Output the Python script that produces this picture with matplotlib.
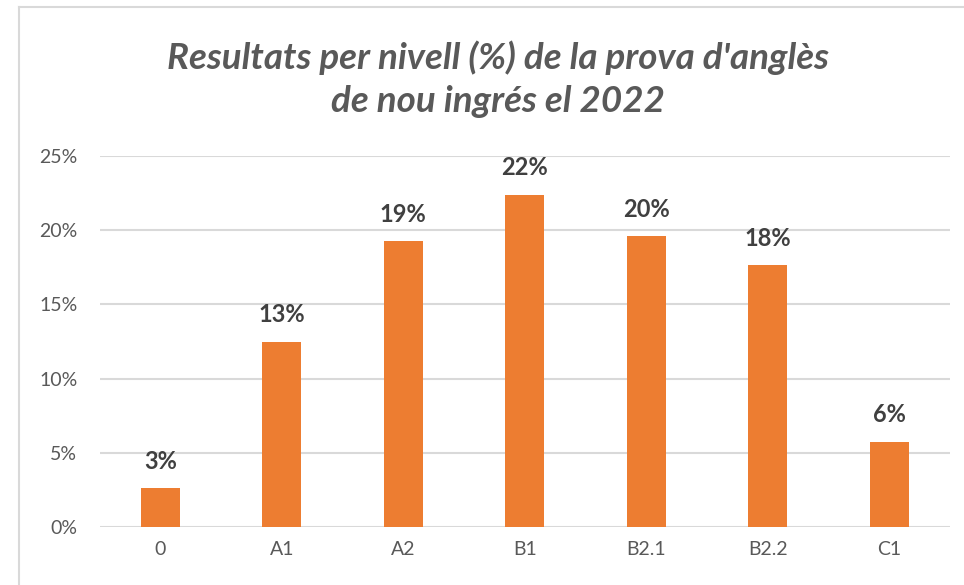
import matplotlib
matplotlib.use("Agg")
import matplotlib.pyplot as plt
from matplotlib.lines import Line2D
from matplotlib.ticker import FuncFormatter

categories = ["0", "A1", "A2", "B1", "B2.1", "B2.2", "C1"]
values = [2.6, 12.5, 19.25, 22.4, 19.6, 17.65, 5.75]
labels = ["3%", "13%", "19%", "22%", "20%", "18%", "6%"]
yticks = [0, 5, 10, 15, 20, 25]
title = "Resultats per nivell (%) de la prova d'anglès\nde nou ingrés el 2022"

plt.rcParams['font.family'] = ['Lato', 'DejaVu Sans']

W, H = 964, 585
fig = plt.figure(figsize=(W / 100, H / 100), dpi=100)
fig.patch.set_facecolor("white")

# chart border
fig.add_artist(Line2D([19 / W, 19 / W], [0, 1 - 7 / H], color="#d9d9d9", lw=1.5, transform=fig.transFigure))
fig.add_artist(Line2D([19 / W, 1], [1 - 7 / H, 1 - 7 / H], color="#d9d9d9", lw=1.5, transform=fig.transFigure))

left, right = 99.5 / W, 950 / W
bottom = 58 / H
top = (585 - 156) / H
ax = fig.add_axes([left, bottom, right - left, top - bottom])

x = range(len(categories))
bars = ax.bar(x, values, width=0.32, color="#ED7D31", zorder=3)
ax.set_xlim(-0.5, len(categories) - 0.5)
ax.set_ylim(0, 25)
ax.set_yticks(yticks)
ax.yaxis.set_major_formatter(FuncFormatter(lambda v, p: f"{int(v)}%"))
ax.set_xticks(list(x))
ax.set_xticklabels(categories)
ax.grid(axis="y", color="#d9d9d9", lw=1.5, zorder=0)
for s in ax.spines.values():
    s.set_visible(False)
ax.tick_params(axis="both", length=0, labelsize=14, labelcolor="#595959")
ax.tick_params(axis="y", pad=16)
ax.tick_params(axis="x", pad=10)

for xi, v, lab in zip(x, values, labels):
    ax.annotate(lab, (xi, v), xytext=(0, 11), textcoords="offset points",
                ha="center", va="bottom", fontsize=17, fontweight="bold", color="#404040")

fig.text(498 / W, 1 - 79 / H, title, ha="center", va="center", fontsize=26.5,
         fontweight="bold", fontstyle="italic", color="#595959", linespacing=1.35)

fig.savefig("out.png", dpi=100, facecolor="white")
